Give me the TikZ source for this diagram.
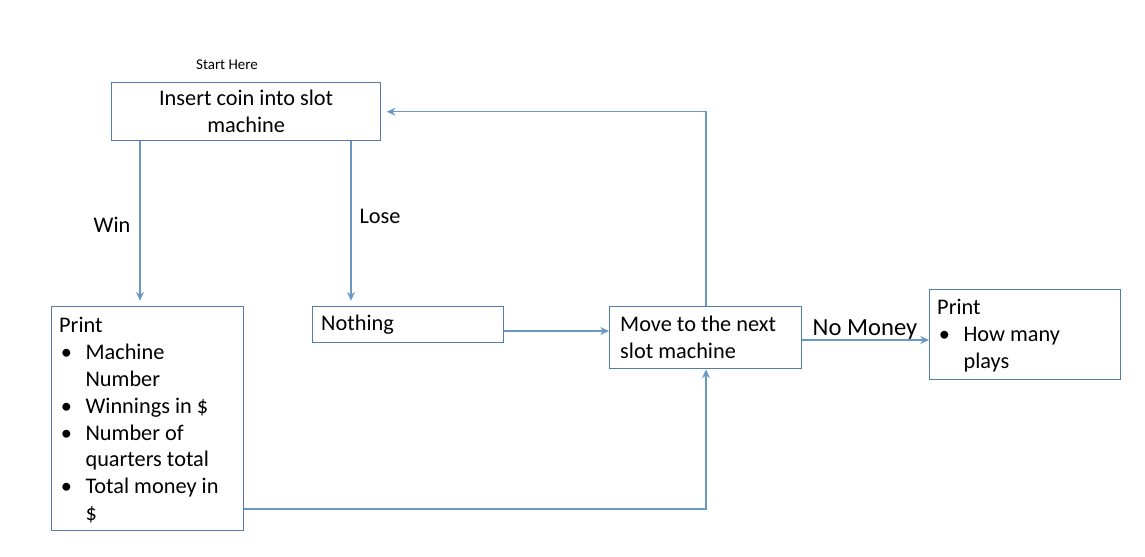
\documentclass[tikz,border=0pt]{standalone}
\usepackage{fontspec}
\setmainfont{Carlito}
\usetikzlibrary{
	arrows.meta,
	calc,
	positioning,
}
\definecolor{boxblue}{RGB}{84,124,168}
\definecolor{arrowblue}{RGB}{106,152,198}
\newcommand{\itm}[1]{\hspace*{1pt}\makebox[14pt][l]{\textbullet}#1}
\newcommand{\cnt}[1]{\hspace*{15pt}#1}

\begin{document}
\begin{tikzpicture}[x=0.02cm,y=-0.02cm,
		box/.style={draw=boxblue, line width=0.8pt, rectangle, anchor=north west,
			inner sep=0pt, font=\fontsize{12.7}{15.3}\selectfont},
		txt/.style={font=\fontsize{12.7}{15.3}\selectfont, align=left},
		arr/.style={draw=arrowblue, line width=0.6pt, -{Stealth[length=5pt,width=4.5pt]}},
		lbl/.style={font=\fontsize{12.7}{15}\selectfont},
	]
				\useasboundingbox (0,0) rectangle (1145,557);
				\node[box, minimum width=269*0.02cm, minimum height=58*0.02cm, align=center] (ins) at (111,82) {Insert coin into slot\\machine};
				\node[font=\fontsize{8.5}{10}\selectfont] (start) at (227,65) {Start Here};
				\node[box, minimum width=192*0.02cm, minimum height=224*0.02cm] (pl) at (51,306) {};
				\node[txt, anchor=north west] (pltxt) at (53,311) {Print\\
					\itm{Machine}\\ \cnt{Number}\\
					\itm{Winnings in \$}\\
					\itm{Number of}\\ \cnt{quarters total}\\
					\itm{Total money in}\\ \cnt{\$}};
				\node[box, minimum width=191*0.02cm, minimum height=36*0.02cm] (no) at (312,306) {};
				\node[txt, anchor=west] (notxt) at (315,325) {Nothing};
				\node[box, minimum width=192*0.02cm, minimum height=62*0.02cm] (mv) at (609,306) {};
				\node[txt, anchor=west] (mvtxt) at (614,337) {Move to the next\\slot machine};
				\node[box, minimum width=191*0.02cm, minimum height=90*0.02cm] (pr) at (929,289) {};
				\node[txt, anchor=north west] (prtxt) at (931,293) {Print\\
					\itm{How many}\\ \cnt{plays}};
				\coordinate (win) at (140,0);
				\coordinate (lose) at (351,0);
				\coordinate (up) at (706,0);
				\draw[arr, shorten >=3pt] (ins.south -| win) -- (pl.north -| win);
				\draw[arr, shorten >=3pt] (ins.south -| lose) -- (no.north -| lose);
				\draw[arr] (no.east |- 0,331) -- (mv.west |- 0,331);
				\draw[arr] (pl.east |- 0,509) -| (mv.south -| up);
				\draw[arr, shorten >=3pt] (mv.north -| up) |- (ins.east);
				\draw[arr] (mv.east |- 0,340) -- (pr.west |- 0,340);
				\node[lbl] (winlbl) at (112,225) {Win};
				\node[lbl] (loselbl) at (380,216) {Lose};
				\node[font=\fontsize{14}{16}\selectfont] (nomoney) at (865,330) {No Money};
			\end{tikzpicture}
\end{document}
